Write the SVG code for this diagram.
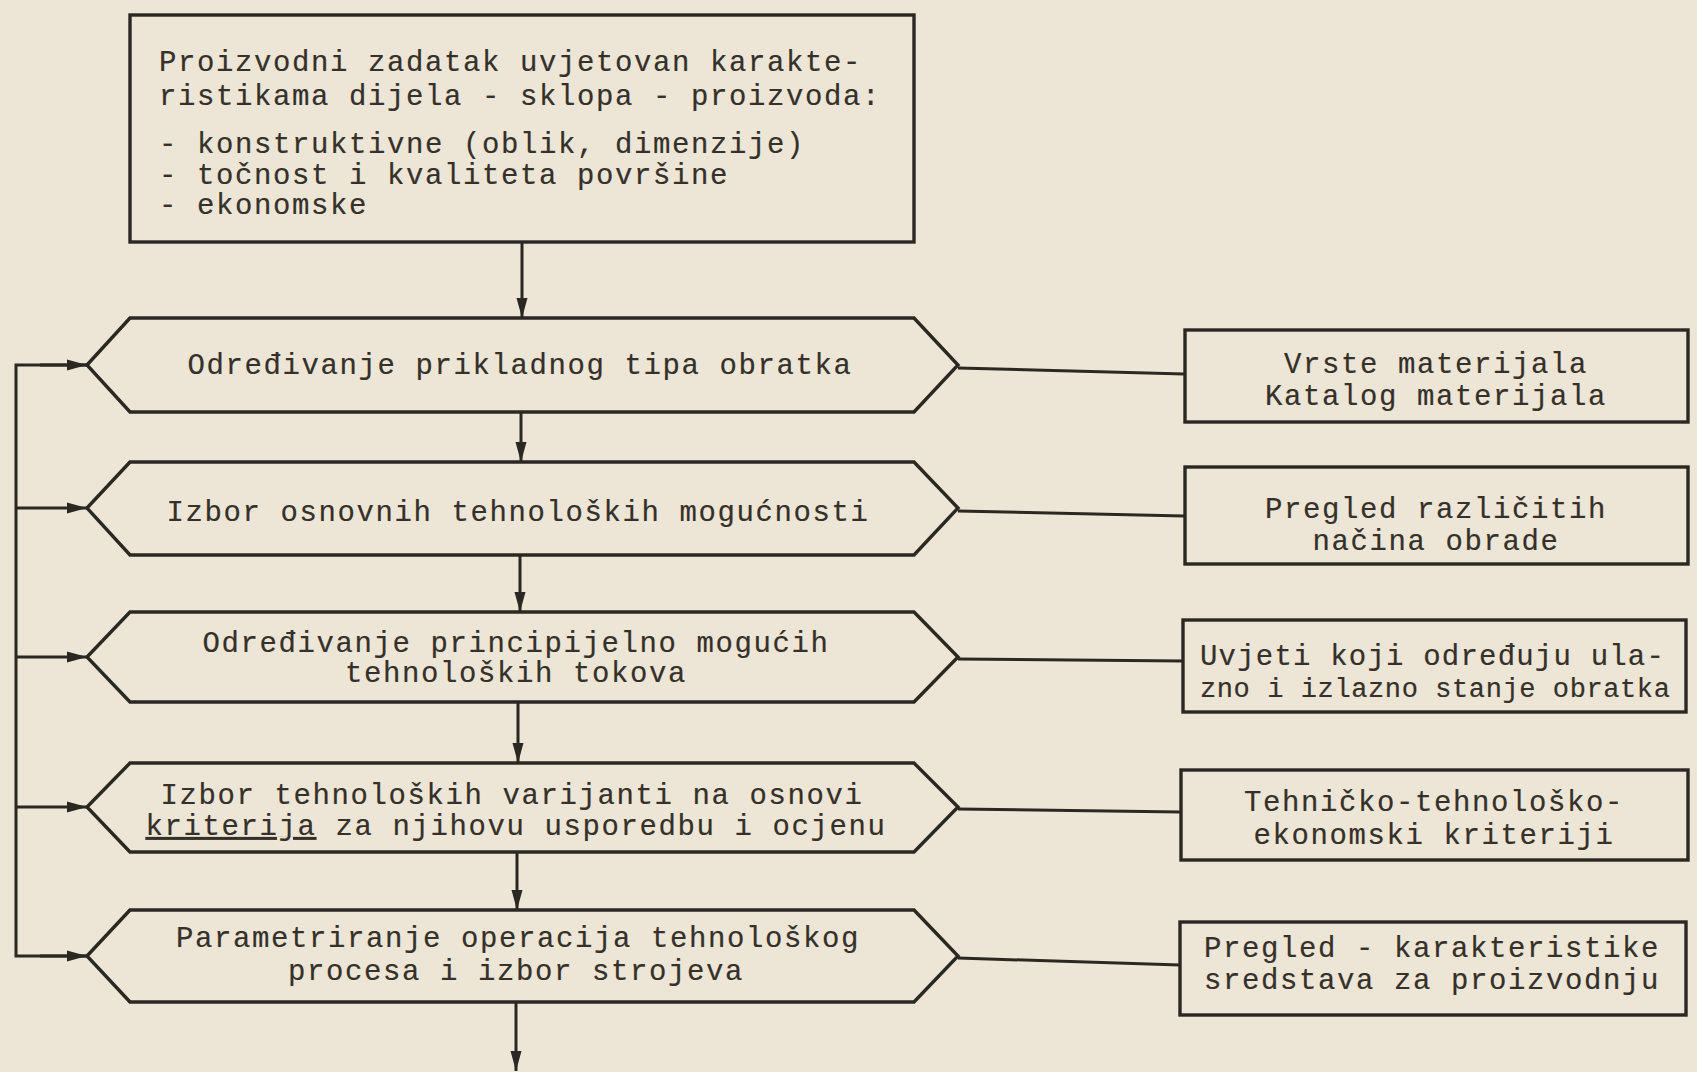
<svg xmlns="http://www.w3.org/2000/svg" width="1697" height="1072" viewBox="0 0 1697 1072">
<style>
.bg{fill:#ede6d6}
.shape{fill:none;stroke:#2b2722;stroke-width:3.4;stroke-linejoin:miter}
.ln{fill:none;stroke:#2b2722;stroke-width:3}
text{font-family:"Liberation Mono","DejaVu Sans Mono",monospace;font-size:29px;letter-spacing:1.6px;fill:#35302a;stroke:#35302a;stroke-width:0.2}
.c{text-anchor:middle}
.u{text-decoration:underline}
.t1{letter-spacing:1.2px}
.t2{font-size:27px;letter-spacing:0.6px}
</style>
<defs>
<marker id="ah" markerUnits="userSpaceOnUse" markerWidth="22" markerHeight="14" refX="20" refY="7" orient="auto">
<path d="M0,1.5 L20,7 L0,12.5 Z" fill="#2b2722"/>
</marker>
</defs>
<rect class="bg" x="0" y="0" width="1697" height="1072"/>

<g id="connectors">
<line class="ln" x1="522" y1="242" x2="522" y2="318" marker-end="url(#ah)"/>
<line class="ln" x1="521" y1="412" x2="521" y2="462" marker-end="url(#ah)"/>
<line class="ln" x1="520" y1="555" x2="520" y2="612" marker-end="url(#ah)"/>
<line class="ln" x1="518" y1="702" x2="518" y2="763" marker-end="url(#ah)"/>
<line class="ln" x1="517" y1="852" x2="517" y2="910" marker-end="url(#ah)"/>
<line class="ln" x1="516" y1="1002" x2="516" y2="1071" marker-end="url(#ah)"/>
<polyline class="ln" points="87,365 16,365 16,956 87,956"/>
<line class="ln" x1="16" y1="508" x2="87" y2="508" marker-end="url(#ah)"/>
<line class="ln" x1="16" y1="657" x2="87" y2="657" marker-end="url(#ah)"/>
<line class="ln" x1="16" y1="807" x2="87" y2="807" marker-end="url(#ah)"/>
<line class="ln" x1="40" y1="365" x2="87" y2="365" marker-end="url(#ah)"/>
<line class="ln" x1="40" y1="956" x2="87" y2="956" marker-end="url(#ah)"/>
<line class="ln" x1="958" y1="368" x2="1184" y2="374"/>
<line class="ln" x1="958" y1="511" x2="1184" y2="516"/>
<line class="ln" x1="958" y1="659" x2="1183" y2="661"/>
<line class="ln" x1="958" y1="809" x2="1181" y2="812"/>
<line class="ln" x1="958" y1="958" x2="1180" y2="965"/>
</g>

<g id="n0">
<rect class="shape" x="130" y="15" width="784" height="227"/>
<text x="159" y="71">Proizvodni zadatak uvjetovan karakte-</text>
<text x="159" y="105">ristikama dijela - sklopa - proizvoda:</text>
<text x="159" y="153">- konstruktivne (oblik, dimenzije)</text>
<text x="159" y="184">- točnost i kvaliteta površine</text>
<text x="159" y="214">- ekonomske</text>
</g>

<g id="n1">
<polygon class="shape" points="87,365 130,318 914,318 958,365 914,412 130,412"/>
<text class="c" x="520" y="374">Određivanje prikladnog tipa obratka</text>
</g>

<g id="n2">
<polygon class="shape" points="87,508 130,462 914,462 958,508 914,555 130,555"/>
<text class="c" x="518" y="521">Izbor osnovnih tehnoloških mogućnosti</text>
</g>

<g id="n3">
<polygon class="shape" points="87,657 130,612 914,612 958,657 914,702 130,702"/>
<text class="c" x="516" y="652">Određivanje principijelno mogućih</text>
<text class="c" x="516" y="682">tehnoloških tokova</text>
</g>

<g id="n4">
<polygon class="shape" points="87,807 130,763 914,763 958,807 914,852 130,852"/>
<text class="c" x="512" y="804">Izbor tehnoloških varijanti na osnovi</text>
<text class="c" x="516" y="835"><tspan class="u">kriterija</tspan> za njihovu usporedbu i ocjenu</text>
</g>

<g id="n5">
<polygon class="shape" points="87,956 130,910 914,910 958,956 914,1002 130,1002"/>
<text class="c" x="518" y="947">Parametriranje operacija tehnološkog</text>
<text class="c" x="516" y="980">procesa i izbor strojeva</text>
</g>

<g id="r1">
<rect class="shape" x="1185" y="330" width="503" height="92"/>
<text class="c" x="1436" y="373">Vrste materijala</text>
<text class="c" x="1436" y="405">Katalog materijala</text>
</g>

<g id="r2">
<rect class="shape" x="1185" y="467" width="503" height="97"/>
<text class="c" x="1436" y="518">Pregled različitih</text>
<text class="c" x="1436" y="550">načina obrade</text>
</g>

<g id="r3">
<rect class="shape" x="1183" y="620" width="503" height="92"/>
<text class="t1" x="1200" y="665">Uvjeti koji određuju ula-</text>
<text class="t2" x="1200" y="697">zno i izlazno stanje obratka</text>
</g>

<g id="r4">
<rect class="shape" x="1181" y="770" width="507" height="90"/>
<text class="c" x="1434" y="811">Tehničko-tehnološko-</text>
<text class="c" x="1434" y="844">ekonomski kriteriji</text>
</g>

<g id="r5">
<rect class="shape" x="1180" y="922" width="506" height="93"/>
<text class="c" x="1432" y="957">Pregled - karakteristike</text>
<text class="c" x="1432" y="989">sredstava za proizvodnju</text>
</g>
</svg>
